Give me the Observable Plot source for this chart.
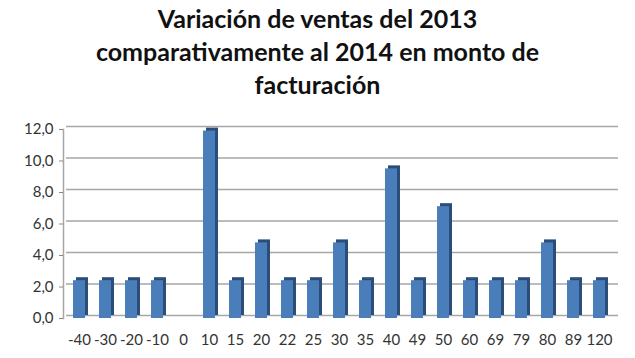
<!DOCTYPE html>
<html><head><meta charset="utf-8">
<script src="https://cdn.jsdelivr.net/npm/d3@7"></script>
<script src="https://cdn.jsdelivr.net/npm/@observablehq/plot@0.6"></script>
<style>
body{margin:0;background:#fff;width:635px;height:358px;overflow:hidden;font-family:Lato,"Open Sans",sans-serif;}
#title{font-family:Lato,"Open Sans",sans-serif;font-weight:bold;font-size:25px;line-height:33px;text-align:center;color:#111;padding-top:2px;height:107px;box-sizing:border-box;}
</style></head><body>
<div id="title">Variación de ventas del 2013<br>comparativamente al 2014 en monto de<br>facturación</div>
<div id="chart"></div>
<script>
const categories = ["-40","-30","-20","-10","0","10","15","20","22","25","30","35","40","49","50","60","69","79","80","89","120"];
const values = [2.4,2.4,2.4,2.4,0,11.9,2.4,4.8,2.4,2.4,4.8,2.4,9.5,2.4,7.1,2.4,2.4,2.4,4.8,2.4,2.4];
const yTicks = [0,2,4,6,8,10,12];
const data = categories.map((c,i)=>({cat:c, value:values[i]}));
const fmt = d => d.toFixed(1).replace(".", ",");
const chart = Plot.plot({
  width: 635, height: 251,
  marginLeft: 63, marginRight: 20, marginTop: 22, marginBottom: 40,
  style: {fontFamily: "Lato, 'Open Sans', sans-serif", fontSize: "15px", color: "#333"},
  x: {domain: categories, paddingInner: 0.54, paddingOuter: 0.3, label: null},
  y: {domain: [0, 12], ticks: yTicks, tickFormat: fmt, label: null},
  marks: [
    Plot.ruleY(yTicks, {stroke: "#a6a6a6", strokeWidth: 1.5, dx: 3, dy: -3}),
    Plot.frame({anchor: "left", stroke: "#a6a6a6", strokeWidth: 1.5}),
    Plot.barY(data, {x: "cat", y: "value", fill: "#2a4d7a", dx: 3, dy: -3}),
    Plot.barY(data, {x: "cat", y: "value", fill: "#4a7ebb"}),
    Plot.axisY({ticks: yTicks, tickFormat: fmt, tickSize: 4, tickPadding: 6, stroke: "#888"}),
    Plot.axisX({tickSize: 0, tickPadding: 16})
  ]
});
document.getElementById("chart").appendChild(chart);
</script>
</body></html>
